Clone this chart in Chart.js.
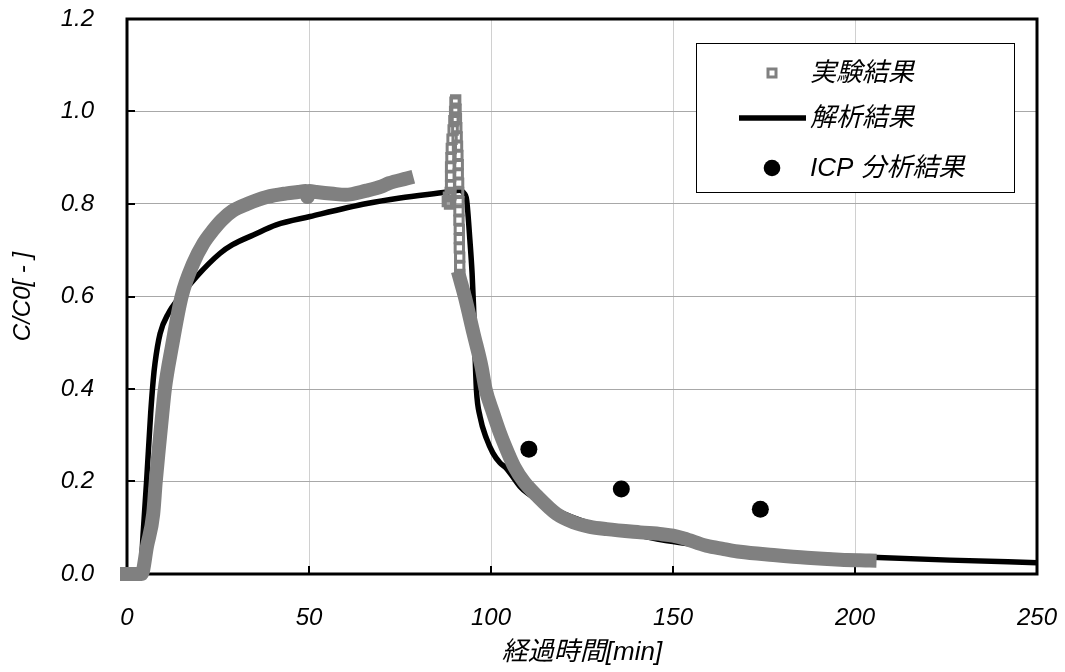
<!DOCTYPE html>
<html><head><meta charset="utf-8">
<script src="https://cdn.jsdelivr.net/npm/chart.js@4.4.1/dist/chart.umd.min.js"></script>
<style>html,body{margin:0;padding:0;background:#fff;overflow:hidden}#wrap{width:1065px;height:672px;position:relative}</style>
</head><body><div id="wrap"><canvas id="c" width="1065" height="672"></canvas></div>
<script>
const seriesLabels = ['実験結果', '解析結果', 'ICP 分析結果'];
const xTitle = '経過時間[min]';
const yTitle = 'C/C0[ - ]';
const xTickValues = [0, 50, 100, 150, 200, 250];
const yTickValues = [0, 0.2, 0.4, 0.6, 0.8, 1.0, 1.2];

// 実験結果: dense measured band (null = gap in the record)
const expBandX = [0, 4, 5.5, 7.2, 7.9, 8.8, 9.7, 10.4, 12.3, 15, 18.2, 21, 23.7, 26, 29, 33, 38.4, 43.9, 47, 49, 49.6, 50.2, 52, 56.7, 60, 65.8, 70, 72, 76.8,
  82,
  91.4, 92.8, 95.2, 97.4, 98.5, 100.5, 102.5, 104.5, 106.4, 109, 112.5, 118, 122.6, 127.2, 131.8, 141, 147, 150, 153, 159.2, 164, 168.4, 177.6, 186.8, 196, 204];
const expBandY = [0, 0, 0.06, 0.13, 0.2, 0.275, 0.347, 0.4, 0.49, 0.6, 0.672, 0.715, 0.744, 0.765, 0.785, 0.8, 0.815, 0.823, 0.826, 0.828, 0.815, 0.828, 0.826, 0.822, 0.82, 0.829, 0.838, 0.845, 0.855,
  null,
  0.64, 0.6, 0.52, 0.448, 0.4, 0.35, 0.304, 0.265, 0.232, 0.2, 0.17, 0.13, 0.112, 0.102, 0.097, 0.09, 0.086, 0.083, 0.077, 0.061, 0.054, 0.048, 0.041, 0.035, 0.031, 0.029];
// 実験結果: sparse samples around the peak
const expSpikeX = [88.0, 88.3, 88.6, 88.8, 89.0, 88.9, 88.9, 88.9, 89.0, 89.1, 89.3, 89.6, 89.8, 90.0, 90.1, 90.3,
  90.4, 90.5, 90.6, 90.7, 90.8, 90.9, 91.0, 91.0, 91.1, 91.1, 91.2, 91.2, 91.2, 91.3, 91.3, 91.3, 91.4, 91.4, 91.4];
const expSpikeY = [0.805, 0.815, 0.80, 0.825, 0.82, 0.84, 0.86, 0.88, 0.90, 0.92, 0.94, 0.96, 0.98, 1.00, 1.02, 1.025,
  1.005, 0.985, 0.965, 0.945, 0.925, 0.905, 0.885, 0.865, 0.845, 0.825, 0.805, 0.785, 0.765, 0.745, 0.725, 0.705, 0.685, 0.665, 0.648];
// 解析結果
const calcX = [0, 3.6, 4.5, 5.4, 6.5, 7.2, 7.7, 9.1, 11.4, 14.6, 19.1, 25.5, 29, 34.7, 41, 50.3, 65.9, 75, 87.9, 91.5, 92.5, 93.3, 94.2, 94.8, 95.2, 95.6, 96, 97, 98.8, 100.5, 102.5, 104.3, 108, 110, 115, 120, 125, 130, 140, 150, 160, 170, 180, 190, 204.5, 226, 250];
const calcY = [0, 0, 0.095, 0.203, 0.347, 0.419, 0.456, 0.52, 0.564, 0.6, 0.643, 0.693, 0.712, 0.733, 0.755, 0.773, 0.801, 0.813, 0.826, 0.83, 0.824, 0.809, 0.722, 0.651, 0.58, 0.48, 0.398, 0.34, 0.292, 0.262, 0.24, 0.228, 0.189, 0.175, 0.15, 0.13, 0.115, 0.103, 0.085, 0.07, 0.06, 0.052, 0.046, 0.041, 0.036, 0.03, 0.0245];
// ICP 分析結果
const icpX = [110.4, 135.8, 174];
const icpY = [0.27, 0.184, 0.14];

const pts = (xs, ys) => xs.map((x, i) => ({x: x, y: ys[i]}));
const FONT = '"Liberation Sans", "Noto Sans CJK JP", sans-serif';
const GRAY = '#808080';

const frameAndTicks = {
  id: 'frameAndTicks',
  beforeDatasetsDraw(chart) {
    const {ctx, chartArea: a, scales: {x, y}} = chart;
    ctx.save();
    ctx.strokeStyle = '#000';
    ctx.lineWidth = 2;
    x.ticks.forEach(t => { const p = Math.round(x.getPixelForValue(t.value)); ctx.beginPath(); ctx.moveTo(p, a.bottom); ctx.lineTo(p, a.bottom - 8); ctx.stroke(); });
    y.ticks.forEach(t => { const p = Math.round(y.getPixelForValue(t.value)); ctx.beginPath(); ctx.moveTo(a.left, p); ctx.lineTo(a.left + 8, p); ctx.stroke(); });
    ctx.lineWidth = 3;
    ctx.strokeRect(a.left, a.top, a.right - a.left, a.bottom - a.top);
    ctx.restore();
  }
};

const boxLegend = {
  id: 'boxLegend',
  afterDraw(chart) {
    const {ctx, chartArea: a} = chart;
    const L = a.right - 341, T = a.top + 24, W = 318, H = 149;
    ctx.save();
    ctx.fillStyle = '#fff';
    ctx.fillRect(L, T, W, H);
    ctx.strokeStyle = '#000';
    ctx.lineWidth = 1;
    ctx.strokeRect(L + 0.5, T + 0.5, W, H);
    const rows = [T + 30, T + 75, T + 125];
    const mx = L + 76;
    ctx.strokeStyle = GRAY; ctx.lineWidth = 3;
    ctx.strokeRect(mx - 4, rows[0] - 4, 8, 8);
    ctx.strokeStyle = '#000'; ctx.lineWidth = 5.5;
    ctx.beginPath(); ctx.moveTo(L + 43, rows[1]); ctx.lineTo(L + 110, rows[1]); ctx.stroke();
    ctx.fillStyle = '#000';
    ctx.beginPath(); ctx.arc(mx, rows[2], 8.3, 0, Math.PI * 2); ctx.fill();
    ctx.font = 'italic 26px ' + FONT;
    ctx.textBaseline = 'middle';
    ctx.textAlign = 'left';
    seriesLabels.forEach((s, i) => ctx.fillText(s, L + 114, rows[i] + 1));
    ctx.restore();
  }
};

const zeroPad = s => { s.paddingTop = 0; s.paddingBottom = 0; s.paddingLeft = 0; s.paddingRight = 0; };

new Chart(document.getElementById('c'), {
  type: 'scatter',
  data: {
    datasets: [
      {label: seriesLabels[2], data: pts(icpX, icpY), pointStyle: 'circle', pointRadius: 8.5, pointHoverRadius: 8.5,
        backgroundColor: '#000', borderColor: '#000', borderWidth: 0, order: 0, clip: false},
      {label: seriesLabels[0], data: pts(expSpikeX, expSpikeY), showLine: false, pointStyle: 'rect', pointRadius: 5.9,
        pointHoverRadius: 5.9, backgroundColor: 'rgba(0,0,0,0)', borderColor: GRAY, borderWidth: 3, order: 1, clip: false},
      {label: seriesLabels[0] + ' band', data: pts(expBandX, expBandY), showLine: true, spanGaps: false, pointRadius: 0,
        pointHoverRadius: 0, borderColor: GRAY, borderWidth: 14, borderCapStyle: 'square', borderJoinStyle: 'round',
        cubicInterpolationMode: 'monotone', order: 2, clip: false},
      {label: seriesLabels[1], data: pts(calcX, calcY), showLine: true, pointRadius: 0, pointHoverRadius: 0,
        borderColor: '#000', borderWidth: 5.5, borderJoinStyle: 'round', cubicInterpolationMode: 'monotone', order: 3, clip: false}
    ]
  },
  options: {
    responsive: false,
    animation: false,
    devicePixelRatio: 1,
    layout: {padding: {top: 19, right: 28, left: 0, bottom: 0}},
    plugins: {legend: {display: false}, tooltip: {enabled: false}},
    events: [],
    scales: {
      x: {
        type: 'linear', min: 0, max: 250,
        afterBuildTicks: s => { s.ticks = xTickValues.map(v => ({value: v})); },
        afterFit: s => { s.height = 98; zeroPad(s); },
        grid: {color: '#d0d0d0', lineWidth: 1, drawTicks: false},
        border: {display: false},
        ticks: {padding: 30, color: '#000', font: {family: FONT, size: 24, style: 'italic'}, maxRotation: 0},
        title: {display: true, text: xTitle, color: '#000', padding: {top: 0, bottom: 4}, font: {family: FONT, size: 26, style: 'italic'}}
      },
      y: {
        type: 'linear', min: 0, max: 1.2,
        afterBuildTicks: s => { s.ticks = yTickValues.map(v => ({value: v})); },
        afterFit: s => { s.width = 127; zeroPad(s); },
        grid: {color: '#a8a8a8', lineWidth: 1, drawTicks: false},
        border: {display: false},
        ticks: {padding: 33, color: '#000', callback: v => Number(v).toFixed(1), font: {family: FONT, size: 24, style: 'italic'}},
        title: {display: true, text: yTitle, color: '#000', padding: {top: 9, bottom: 0}, font: {family: FONT, size: 24, style: 'italic'}}
      }
    }
  },
  plugins: [frameAndTicks, boxLegend]
});
</script>
</body></html>
